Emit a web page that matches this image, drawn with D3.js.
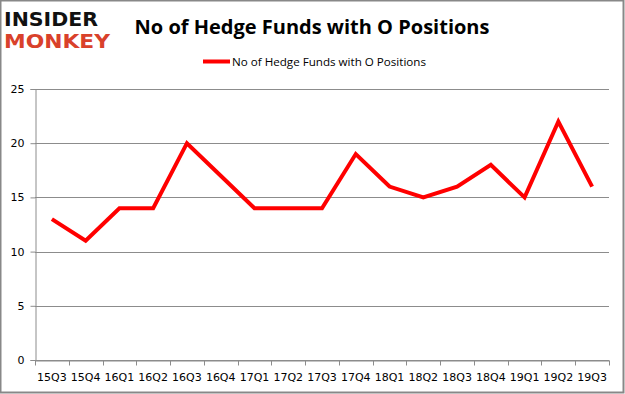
<!DOCTYPE html>
<html>
<head>
<meta charset="utf-8">
<script src="https://cdn.jsdelivr.net/npm/d3@7"></script>
<style>
  body { margin: 0; background: #fff; }
  svg { display: block; }
</style>
</head>
<body>
<div id="chart"></div>
<script>
// quarters on the x axis
const quarters = ["15Q3", "15Q4", "16Q1", "16Q2", "16Q3", "16Q4", "17Q1", "17Q2", "17Q3",
                  "17Q4", "18Q1", "18Q2", "18Q3", "18Q4", "19Q1", "19Q2", "19Q3"];
// number of hedge funds holding O
const fundCounts = [13, 11, 14, 14, 20, 17, 14, 14, 14, 19, 16, 15, 16, 18, 15, 22, 16];
const yTicks = [0, 5, 10, 15, 20, 25];
const seriesName = "No of Hedge Funds with O Positions";

const W = 625, H = 394;
const margin = {top: 89, right: 16, bottom: 34, left: 35};

const svg = d3.select("#chart").append("svg")
    .attr("width", W)
    .attr("height", H);

// outer frame
svg.append("rect")
    .attr("x", 0.5).attr("y", 0.5)
    .attr("width", W - 2).attr("height", H - 2)
    .attr("fill", "#fff")
    .attr("stroke", "#888")
    .attr("stroke-width", 2);

const x = d3.scaleBand()
    .domain(quarters)
    .range([margin.left, W - margin.right]);

const y = d3.scaleLinear()
    .domain([0, 25])
    .range([H - margin.bottom, margin.top]);

// gridlines
svg.append("g")
    .selectAll("line")
    .data(yTicks)
    .join("line")
    .attr("x1", margin.left)
    .attr("x2", W - margin.right)
    .attr("y1", d => Math.round(y(d)) + 0.5)
    .attr("y2", d => Math.round(y(d)) + 0.5)
    .attr("stroke", "#8c8c8c")
    .attr("stroke-width", 1);

// y axis
const yAxis = svg.append("g")
    .attr("transform", `translate(${margin.left + 0.5},0)`)
    .call(d3.axisLeft(y).tickValues(yTicks).tickSize(5).tickPadding(6));
yAxis.select(".domain").attr("stroke", "#8c8c8c");
yAxis.selectAll(".tick line").attr("stroke", "#8c8c8c");
yAxis.selectAll("text")
    .attr("font-family", "DejaVu Sans, Tahoma, sans-serif")
    .attr("font-size", 11)
    .attr("fill", "#000");

// x axis, ticks sit on category boundaries
const xAxis = svg.append("g")
    .attr("transform", `translate(0,${Math.round(y(0)) + 0.5})`)
    .call(d3.axisBottom(x).tickSize(0).tickPadding(13));
xAxis.select(".domain").attr("stroke", "#8c8c8c");
xAxis.selectAll("text")
    .attr("font-family", "DejaVu Sans, Tahoma, sans-serif")
    .attr("font-size", 11)
    .attr("fill", "#000");
xAxis.selectAll(".boundary")
    .data(quarters.concat(["end"]))
    .join("line")
    .attr("class", "boundary")
    .attr("x1", (d, i) => Math.round(margin.left + i * x.bandwidth()) + 0.5)
    .attr("x2", (d, i) => Math.round(margin.left + i * x.bandwidth()) + 0.5)
    .attr("y1", 0)
    .attr("y2", 5)
    .attr("stroke", "#8c8c8c");

// the series line
const line = d3.line()
    .x((d, i) => x(quarters[i]) + x.bandwidth() / 2)
    .y(d => y(d));

svg.append("path")
    .datum(fundCounts)
    .attr("d", line)
    .attr("fill", "none")
    .attr("stroke", "#ff0000")
    .attr("stroke-width", 4)
    .attr("stroke-linejoin", "miter");

// title
svg.append("text")
    .attr("x", 312)
    .attr("y", 34)
    .attr("text-anchor", "middle")
    .attr("font-family", "Open Sans, Lato, sans-serif")
    .attr("font-weight", "bold")
    .attr("font-size", 20)
    .attr("fill", "#000")
    .text(seriesName);

// legend
svg.append("line")
    .attr("x1", 203).attr("x2", 230)
    .attr("y1", 61.5).attr("y2", 61.5)
    .attr("stroke", "#ff0000")
    .attr("stroke-width", 4);
svg.append("text")
    .attr("x", 232)
    .attr("y", 66)
    .attr("font-family", "Open Sans, Lato, sans-serif")
    .attr("font-size", 11.5)
    .attr("textLength", 194)
    .attr("lengthAdjust", "spacingAndGlyphs")
    .attr("fill", "#000")
    .text(seriesName);

// logo
const logo = svg.append("g").attr("font-family", "DejaVu Sans, sans-serif")
    .attr("font-weight", "bold");
logo.append("text")
    .attr("x", 4).attr("y", 26)
    .attr("font-size", 19)
    .attr("textLength", 94)
    .attr("lengthAdjust", "spacingAndGlyphs")
    .attr("fill", "#111")
    .text("INSIDER");
logo.append("text")
    .attr("x", 4).attr("y", 48)
    .attr("font-size", 19)
    .attr("textLength", 106)
    .attr("lengthAdjust", "spacingAndGlyphs")
    .attr("fill", "#d9412b")
    .text("MONKEY");
</script>
</body>
</html>
